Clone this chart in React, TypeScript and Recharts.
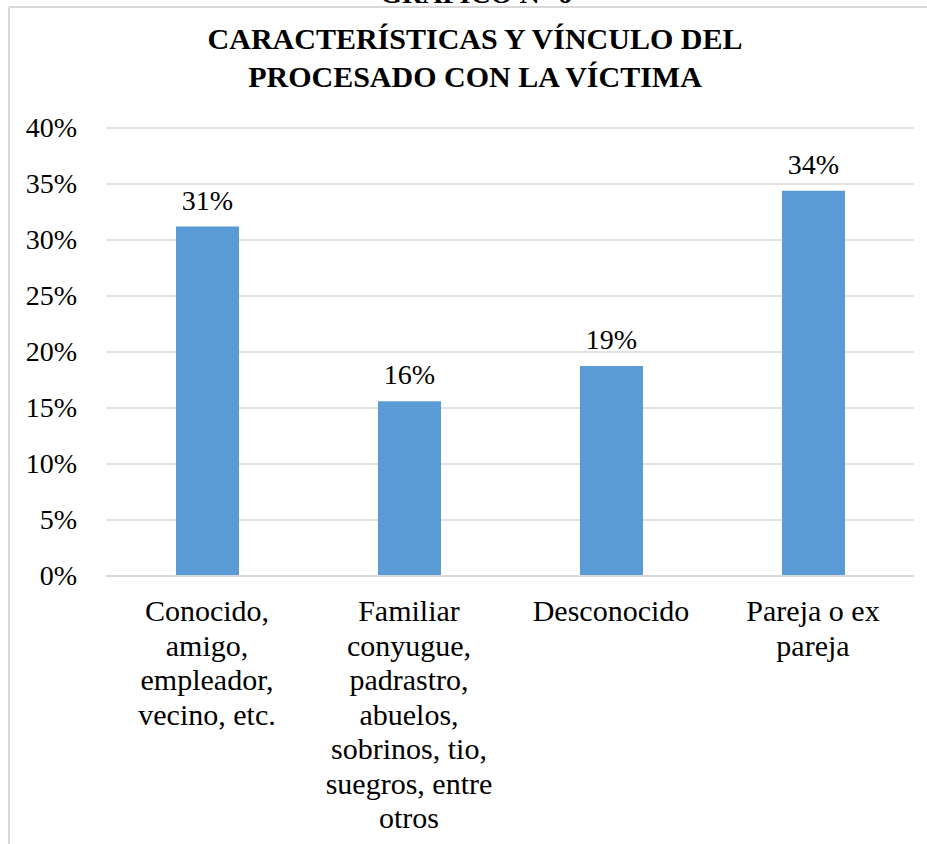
import React from "react";
import { BarChart, Bar, XAxis, YAxis, CartesianGrid, LabelList } from "recharts";

const categories = ["Conocido", "Familiar", "Desconocido", "Pareja"];
const categoryLines = [
  ["Conocido,", "amigo,", "empleador,", "vecino, etc."],
  ["Familiar", "conyugue,", "padrastro,", "abuelos,", "sobrinos, tio,", "suegros, entre", "otros"],
  ["Desconocido"],
  ["Pareja o ex", "pareja"],
];
const values = [31.2, 15.6, 18.75, 34.4];
const yTicks = [0, 5, 10, 15, 20, 25, 30, 35, 40];
const titleLines = ["CARACTERÍSTICAS Y VÍNCULO DEL", "PROCESADO CON LA VÍCTIMA"];
const headerText = "GRÁFICO N° 6";

const data = categories.map((c, i) => ({ cat: c, idx: i, value: values[i] }));

const FONT = "'Liberation Serif', 'Times New Roman', serif";

const CatTick = (props: any) => {
  const { x, y, index } = props;
  const lines = categoryLines[index] || [];
  return (
    <text x={x} y={y + 45} textAnchor="middle" fontFamily={FONT} fontSize={30} fill="#000">
      {lines.map((l, i) => (
        <tspan key={i} x={x} dy={i === 0 ? 0 : 34.5}>
          {l}
        </tspan>
      ))}
    </text>
  );
};

const YTick = (props: any) => {
  const { x, y, payload } = props;
  return (
    <text x={x - 29} y={y + 9} textAnchor="end" fontFamily={FONT} fontSize={28} fill="#000">
      {payload.value + "%"}
    </text>
  );
};

const ValLabel = (props: any) => {
  const { x, y, width, value } = props;
  return (
    <text x={x + width / 2} y={y - 17} textAnchor="middle" fontFamily={FONT} fontSize={28} fill="#000">
      {Math.round(value) + "%"}
    </text>
  );
};

export default function App() {
  return (
    <div style={{ position: "absolute", left: 0, top: 0, width: 927, height: 844, background: "#fff", overflow: "hidden" }}>
      <BarChart
        width={927}
        height={844}
        data={data}
        margin={{ top: 128, right: 13, bottom: 0, left: 0 }}
        barSize={63}
      >
        <CartesianGrid vertical={false} stroke="#d9d9d9" strokeWidth={1.5} />
        <XAxis
          dataKey="cat"
          interval={0}
          tickLine={false}
          tickSize={0}
          tickMargin={0}
          axisLine={{ stroke: "#d9d9d9", strokeWidth: 2 }}
          tick={<CatTick />}
          height={268}
        />
        <YAxis
          domain={[0, 40]}
          ticks={yTicks}
          width={106}
          axisLine={false}
          tickLine={false}
          tickSize={0}
          tickMargin={0}
          tick={<YTick />}
          interval={0}
        />
        <Bar dataKey="value" fill="#5b9bd5" isAnimationActive={false}>
          <LabelList dataKey="value" content={<ValLabel />} />
        </Bar>
      </BarChart>
      <svg
        width={927}
        height={844}
        style={{ position: "absolute", left: 0, top: 0, pointerEvents: "none" }}
      >
        <text x={476} y={3} textAnchor="middle" fontFamily={FONT} fontWeight="bold" fontSize={28} fill="#000">
          {headerText}
        </text>
        <line x1={9} y1={7} x2={927} y2={7} stroke="#d9d9d9" strokeWidth={2} />
        <line x1={9} y1={7} x2={9} y2={844} stroke="#d9d9d9" strokeWidth={2} />
        <text textAnchor="middle" fontFamily={FONT} fontWeight="bold" fontSize={30} fill="#000">
          <tspan x={475} y={49}>{titleLines[0]}</tspan>
          <tspan x={475} y={87}>{titleLines[1]}</tspan>
        </text>
      </svg>
    </div>
  );
}
